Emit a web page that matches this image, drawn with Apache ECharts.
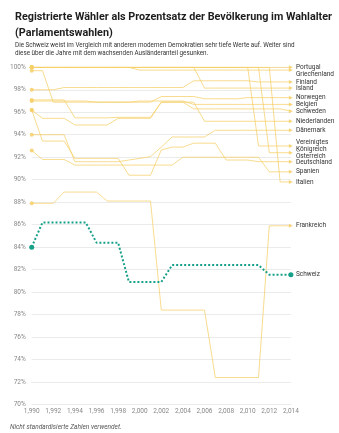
<!DOCTYPE html>
<html>
<head>
<meta charset="utf-8">
<script src="https://cdn.jsdelivr.net/npm/echarts@6/dist/echarts.min.js"></script>
<style>
  html, body { margin: 0; padding: 0; background: #fff; }
  #chart { width: 339px; height: 433px; }
</style>
</head>
<body>
<div id="chart"></div>
<script>
// Wahljahre (jährliche Werte, zwischen den Wahlen fortgeschrieben)
const years = [1990, 1991, 1992, 1993, 1994, 1995, 1996, 1997, 1998, 1999, 2000, 2001, 2002,
               2003, 2004, 2005, 2006, 2007, 2008, 2009, 2010, 2011, 2012, 2013, 2014];

const yTicks = [70, 72, 74, 76, 78, 80, 82, 84, 86, 88, 90, 92, 94, 96, 98, 100];

// Registrierte Wähler in % der Bevölkerung im Wahlalter
const portugal     = [100, 100, 100, 100, 100, 100, 100, 100, 100, 100, 100, 100, 100, 100, 100, 100, 100, 100, 100, 100, 100, 100, 100, 100, 100];
const griechenland = [100, 100, 100, 100, 100, 100, 100, 100, 100, 100, 99.75, 99.75, 99.75, 99.75, 99.75, 99.75, 99.75, 99.75, 99.75, 99.75, 99.75, 99.75, 99.75, 99.75, 99.75];
const finland      = [98.0, 98.0, 98.0, 98.2, 98.2, 98.2, 98.2, 98.2, 98.2, 98.2, 98.2, 98.2, 98.2, 98.2, 98.2, 98.8, 98.8, 98.8, 98.8, 98.8, 98.8, 98.7, 98.7, 98.7, 98.7];
const island       = [100, 100, 100, 100, 100, 100, 100, 100, 100, 100, 100, 100, 100, 100, 100, 100, 98.15, 98.15, 98.15, 98.15, 98.15, 98.15, 98.15, 98.15, 98.15];
const norwegen     = [99.7, 99.7, 96.9, 96.9, 96.9, 96.9, 96.9, 96.9, 96.9, 96.9, 96.9, 96.9, 97.4, 97.4, 97.4, 97.4, 97.2, 97.2, 97.2, 97.2, 97.3, 97.3, 97.3, 97.3, 97.3];
const belgien      = [97.0, 97.0, 97.0, 97.0, 97.0, 97.0, 96.9, 96.9, 96.9, 96.9, 97.0, 97.0, 97.0, 97.0, 97.0, 96.7, 96.7, 96.7, 96.7, 96.7, 96.7, 96.7, 96.7, 96.7, 96.7];
const schweden     = [96.2, 95.46, 95.46, 95.46, 94.87, 94.87, 94.87, 94.87, 95.46, 95.46, 95.46, 95.46, 96.9, 96.9, 96.9, 96.3, 96.3, 96.3, 96.3, 96.3, 96.3, 96.3, 96.3, 96.3, 96.1];
const niederlanden = [97.1, 97.1, 97.1, 97.1, 95.5, 95.5, 95.5, 95.5, 95.55, 95.55, 95.55, 95.55, 96.9, 96.9, 96.9, 96.9, 95.2, 95.2, 95.2, 95.2, 95.2, 95.2, 95.2, 95.2, 95.2];
const daenemark    = [94.0, 94.0, 94.0, 94.0, 91.6, 91.6, 91.6, 91.6, 91.6, 91.75, 91.9, 92.05, 92.9, 93.8, 93.8, 93.8, 93.8, 94.4, 94.4, 94.4, 94.4, 94.4, 94.4, 94.4, 94.4];
const vk           = [100, 100, 100, 100, 100, 100, 100, 100, 100, 100, 100, 100, 100, 100, 100, 100, 100, 100, 100, 100, 100, 93.0, 93.0, 93.0, 93.0];
const oesterreich  = [100, 100, 100, 100, 100, 100, 100, 100, 100, 100, 100, 100, 100, 100, 100, 100, 100, 100, 100, 100, 100, 100, 92.4, 92.4, 92.4];
const deutschland  = [96.2, 93.44, 93.44, 93.44, 91.9, 91.9, 91.9, 91.9, 91.9, 90.4, 90.4, 90.4, 92.65, 92.9, 92.9, 93.25, 93.25, 93.25, 91.75, 91.75, 91.75, 91.6, 91.6, 91.6, 91.6];
const spanien      = [92.6, 91.8, 91.8, 91.8, 91.3, 91.3, 91.3, 91.3, 91.3, 91.3, 91.3, 91.3, 91.3, 91.3, 92.0, 92.0, 92.0, 92.0, 92.0, 92.0, 92.0, 92.0, 90.7, 90.7, 90.7];
const italien      = [100, 100, 100, 100, 100, 100, 100, 100, 100, 100, 100, 100, 100, 100, 100, 100, 100, 100, 100, 100, 100, 100, 100, 89.8, 89.8];
const frankreich   = [87.9, 87.9, 87.9, 88.9, 88.9, 88.9, 88.9, 88.1, 88.1, 88.1, 88.1, 88.1, 78.4, 78.4, 78.4, 78.4, 78.4, 72.4, 72.4, 72.4, 72.4, 72.4, 85.9, 85.9, 85.9];
const schweiz      = [84.0, 86.2, 86.2, 86.2, 86.2, 86.2, 84.4, 84.4, 84.4, 80.9, 80.9, 80.9, 80.9, 82.4, 82.4, 82.4, 82.4, 82.4, 82.4, 82.4, 82.4, 82.4, 81.55, 81.55, 81.55];

const countryNames = ['Portugal', 'Griechenland', 'Finland', 'Island', 'Norwegen', 'Belgien', 'Schweden',
                      'Niederlanden', 'Dänemark', 'Vereinigtes Königreich', 'Österreich', 'Deutschland',
                      'Spanien', 'Italien', 'Frankreich'];
const countryValues = [portugal, griechenland, finland, island, norwegen, belgien, schweden,
                       niederlanden, daenemark, vk, oesterreich, deutschland, spanien, italien, frankreich];

const FONT = 'Roboto, "Noto Sans", sans-serif';
const YELLOW = '#f6cf68';
const TEAL = '#16a08a';

function pairs(vals) {
  return years.map((y, i) => [y, vals[i]]);
}

function labelText(name) {
  return name === 'Vereinigtes Königreich' ? 'Vereinigtes\nKönigreich' : name;
}

function makeSeries(name, vals, color, isMain) {
  const last = vals.length - 1;
  return {
    id: name,
    name: name,
    type: 'line',
    data: pairs(vals),
    z: isMain ? 5 : 2,
    silent: true,
    animation: false,
    showSymbol: true,
    symbol: (v, p) => (p.dataIndex === last && !isMain ? 'triangle' : 'circle'),
    symbolRotate: (v, p) => (p.dataIndex === last && !isMain ? -90 : 0),
    symbolSize: (v, p) => (p.dataIndex === 0 || p.dataIndex === last ? (isMain ? 5 : 4) : 0),
    itemStyle: { color: color, opacity: isMain ? 1 : 0.85 },
    lineStyle: isMain
      ? { color: color, width: 2, type: [2, 2] }
      : { color: color, width: 1, opacity: 0.75 },
    endLabel: {
      show: true,
      formatter: () => labelText(name),
      fontFamily: FONT,
      fontSize: 6.5,
      lineHeight: 7,
      color: '#333',
      distance: 5,
      offset: [0, 0]
    },
    emphasis: { disabled: true }
  };
}

const series = countryNames.map((n, i) => makeSeries(n, countryValues[i], YELLOW, false));
series.push(makeSeries('Schweiz', schweiz, TEAL, true));

const option = {
  backgroundColor: '#fff',
  animation: false,
  textStyle: { fontFamily: FONT },
  title: {
    left: 10,
    top: 4,
    itemGap: 1,
    text: 'Registrierte Wähler als Prozentsatz der Bevölkerung im Wahlalter\n(Parlamentswahlen)',
    subtext: 'Die Schweiz weist im Vergleich mit anderen modernen Demokratien sehr tiefe Werte auf. Weiter sind\ndiese über die Jahre mit dem wachsenden Ausländeranteil gesunken.',
    textStyle: { fontFamily: FONT, fontSize: 10.8, fontWeight: 'bold', color: '#1d1d1d', lineHeight: 16 },
    subtextStyle: { fontFamily: FONT, fontSize: 6.3, color: '#333', lineHeight: 7.4 }
  },
  grid: { left: 31.7, right: 48.1, top: 67.3, bottom: 28.5, containLabel: false },
  xAxis: {
    type: 'value',
    min: years[0],
    max: years[years.length - 1],
    interval: 2,
    axisLine: { show: false },
    axisTick: { show: false },
    splitLine: { show: false },
    axisLabel: { fontFamily: FONT, fontSize: 6.5, color: '#888', margin: 3 }
  },
  yAxis: {
    type: 'value',
    min: yTicks[0],
    max: yTicks[yTicks.length - 1],
    interval: 2,
    axisLine: { show: false },
    axisTick: { show: false },
    splitLine: { lineStyle: { color: '#ebebeb', width: 1 } },
    axisLabel: { fontFamily: FONT, fontSize: 6.5, color: '#888', margin: 6, formatter: v => v + '%' }
  },
  graphic: [{
    type: 'text',
    left: 10,
    top: 424,
    style: {
      text: 'Nicht standardisierte Zahlen verwendet.',
      font: 'italic 6.5px ' + FONT,
      fill: '#555'
    }
  }],
  series: series
};

const chart = echarts.init(document.getElementById('chart'), null, { renderer: 'canvas' });
chart.setOption(option);

// Endbeschriftungen übereinander verteilen, damit sie sich nicht überdecken
const PITCH = 6.6;
const items = series.map(s => {
  const lastPt = s.data[s.data.length - 1];
  const py = chart.convertToPixel({ gridIndex: 0 }, lastPt)[1];
  const lines = labelText(s.name).split('\n').length;
  return { id: s.id, y: py, h: lines * PITCH };
}).sort((a, b) => a.y - b.y);

let prev = null;
items.forEach(it => {
  it.ly = it.y;
  if (prev) {
    const minY = prev.ly + prev.h / 2 + it.h / 2;
    if (it.ly < minY) it.ly = minY;
  }
  prev = it;
});

chart.setOption({
  series: items.map(it => ({ id: it.id, endLabel: { offset: [0, it.ly - it.y] } }))
});
</script>
</body>
</html>
